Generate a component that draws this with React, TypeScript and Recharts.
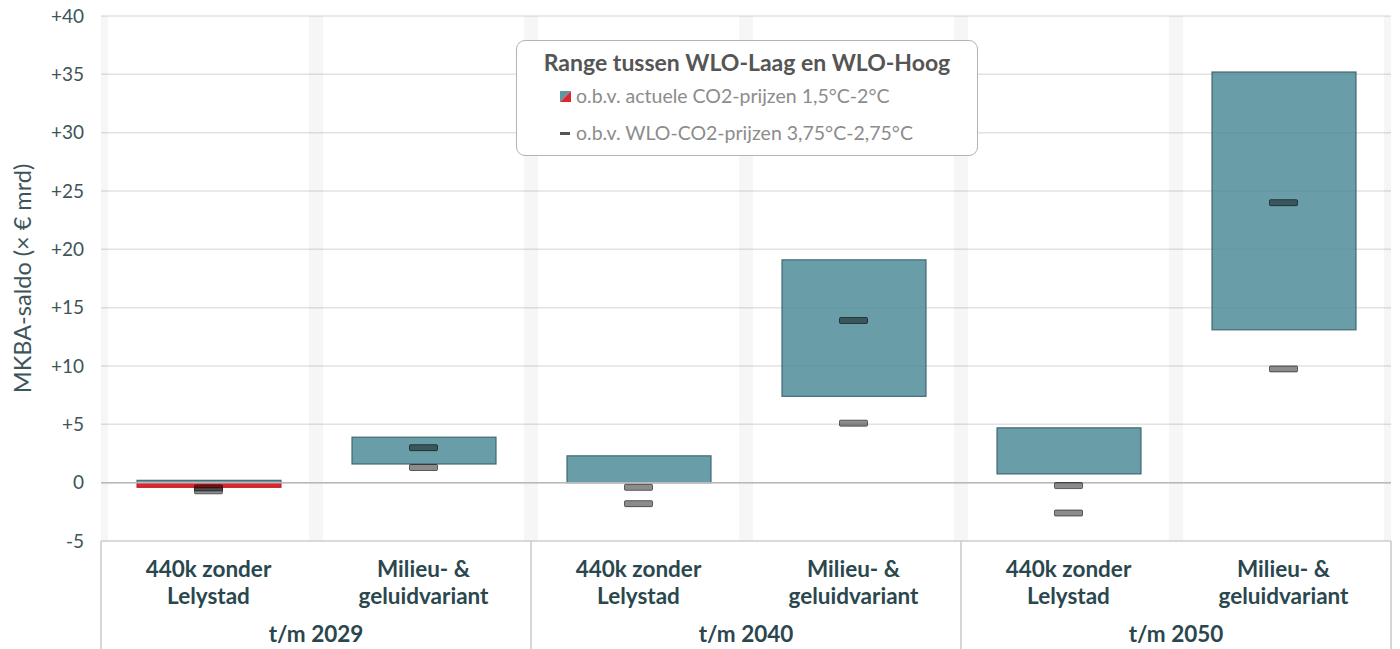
import React from 'react';
import {
  ComposedChart,
  Bar,
  Scatter,
  XAxis,
  YAxis,
  CartesianGrid,
  ReferenceLine,
  ReferenceArea,
  Legend,
  Label,
} from 'recharts';

// categorieën (twee regels per label) en groepen
const categories = [
  '440k zonder\nLelystad',
  'Milieu- &\ngeluidvariant',
  '440k zonder\nLelystad',
  'Milieu- &\ngeluidvariant',
  '440k zonder\nLelystad',
  'Milieu- &\ngeluidvariant',
];
const groups = ['t/m 2029', 't/m 2040', 't/m 2050'];

// range o.b.v. actuele CO2-prijzen (WLO-Laag .. WLO-Hoog)
const actueelLaag = [-0.4, 1.6, 0.0, 7.4, 0.75, 13.1];
const actueelHoog = [0.2, 3.9, 2.3, 19.1, 4.7, 35.2];

// markers o.b.v. WLO-CO2-prijzen
const wloBoven = [-0.45, 3.0, -0.4, 13.9, -0.25, 24.0];
const wloOnder = [-0.7, 1.3, -1.8, 5.1, -2.6, 9.75];

const yTicks = [-5, 0, 5, 10, 15, 20, 25, 30, 35, 40];

const data = categories.map((name, i) => ({
  name,
  slot: i + 0.5,
  range: [actueelLaag[i], actueelHoog[i]],
  laag: actueelLaag[i],
  hoog: actueelHoog[i],
  wloBoven: wloBoven[i],
  wloOnder: wloOnder[i],
}));

const TEAL = 'rgba(72, 137, 150, 0.82)';
const TEAL_STROKE = 'rgba(55, 95, 104, 0.9)';
const RED = '#e0262c';
const TEXT = '#2b474e';
const CAT_H = 70;
const GRP_H = 38;

const boundaries = categories.map((_, i) => i).concat(categories.length);

const RangeShape = (props: any) => {
  const { x, y, width, height, payload } = props;
  const top = Math.min(y, y + height);
  const h = Math.abs(height);
  const span = payload.hoog - payload.laag;
  const zeroY = span > 0 ? top + (h * Math.max(payload.hoog, 0)) / span : top + h;
  const parts = [];
  if (payload.hoog > 0) {
    const bottom = Math.min(zeroY, top + h);
    parts.push(
      <rect key="p" x={x} y={top} width={width} height={Math.max(bottom - top, 0)} fill={TEAL} stroke={TEAL_STROKE} strokeWidth={1.2} />
    );
  }
  if (payload.laag < 0) {
    const start = Math.max(zeroY, top);
    parts.push(
      <rect key="n" x={x} y={start} width={width} height={top + h - start} fill={RED} stroke="#b51c22" strokeWidth={1} />
    );
  }
  return <g>{parts}</g>;
};

const MarkerShape = (props: any) => {
  const { cx, cy } = props;
  if (cx == null || cy == null) return null;
  return (
    <rect x={cx - 14} y={cy - 3} width={28} height={6} rx={1} fill="rgba(0,0,0,0.45)" stroke="rgba(0,0,0,0.55)" strokeWidth={1} />
  );
};

const CategoryTick = (props: any) => {
  const { x, y, payload } = props;
  const lines = String(payload.value).split('\n');
  return (
    <g>
      {lines.map((l, i) => (
        <text key={i} x={x} y={y + 36 + i * 27} textAnchor="middle" fill={TEXT} fontSize={22.5} fontWeight={700}>
          {l}
        </text>
      ))}
    </g>
  );
};

const GroupTick = (props: any) => {
  const { x, y, payload } = props;
  const v = payload.value;
  if (v % 2 === 0) {
    return <line x1={x} x2={x} y1={y - CAT_H} y2={y + GRP_H} stroke="#c9c9c9" strokeWidth={1.5} />;
  }
  return (
    <text x={x} y={y + 31} textAnchor="middle" fill={TEXT} fontSize={22.5} fontWeight={700}>
      {groups[(v - 1) / 2]}
    </text>
  );
};

const LegendBox = () => (
  <div
    style={{
      boxSizing: 'border-box',
      width: 462,
      height: 116,
      border: '1.5px solid #b3b3b3',
      borderRadius: 9,
      background: '#fff',
      fontFamily: 'Lato, sans-serif',
    }}
  >
    <div style={{ textAlign: 'center', fontWeight: 700, fontSize: 23, color: '#555', paddingTop: 8, lineHeight: '26px' }}>
      Range tussen WLO-Laag en WLO-Hoog
    </div>
    <div style={{ display: 'flex', alignItems: 'center', marginLeft: 43, marginTop: 9, fontSize: 19.5, color: '#8c8c8c', lineHeight: '24px' }}>
      <svg width={11} height={11} style={{ marginRight: 5 }}>
        <polygon points="0,0 11,0 0,11" fill="#5d97a2" />
        <polygon points="11,0 11,11 0,11" fill={RED} />
      </svg>
      o.b.v. actuele CO2-prijzen 1,5°C-2°C
    </div>
    <div style={{ display: 'flex', alignItems: 'center', marginLeft: 43, marginTop: 13, fontSize: 19.5, color: '#8c8c8c', lineHeight: '24px' }}>
      <svg width={11} height={11} style={{ marginRight: 5 }}>
        <rect x={0} y={4} width={10} height={3} fill="#555" />
      </svg>
      o.b.v. WLO-CO2-prijzen 3,75°C-2,75°C
    </div>
  </div>
);

export default function App() {
  return (
    <div style={{ position: 'absolute', left: 0, top: 0, fontFamily: 'Lato, sans-serif', background: '#fff' }}>
      <ComposedChart width={1400} height={649} data={data} margin={{ top: 16, right: 9, left: 0, bottom: 0 }}>
        {boundaries.map((b) => (
          <ReferenceArea
            key={b}
            xAxisId="grp"
            x1={b - 0.033}
            x2={b + 0.033}
            ifOverflow="hidden"
            fill="#000"
            fillOpacity={0.035}
            stroke="none"
          />
        ))}
        <CartesianGrid vertical={false} stroke="#e2e2e2" strokeWidth={1.5} />
        <XAxis
          dataKey="name"
          height={CAT_H}
          interval={0}
          tickLine={false}
          tickSize={0}
          tickMargin={0}
          axisLine={{ stroke: '#d4d4d4', strokeWidth: 1.5 }}
          tick={<CategoryTick />}
        />
        <XAxis
          xAxisId="grp"
          dataKey="slot"
          type="number"
          domain={[0, categories.length]}
          allowDataOverflow
          ticks={boundaries}
          interval={0}
          height={GRP_H}
          tickLine={false}
          tickSize={0}
          tickMargin={0}
          axisLine={false}
          tick={<GroupTick />}
        />
        <YAxis
          width={101}
          domain={[-5, 40]}
          ticks={yTicks}
          interval={0}
          tickLine={false}
          axisLine={false}
          tickMargin={11}
          tick={{ fill: '#3e5459', fontSize: 19 }}
          tickFormatter={(v: number) => (v > 0 ? `+${v}` : `${v}`)}
        >
          <Label
            content={(p: any) => {
              const vb = p.viewBox || { x: 0, y: 0, width: 0, height: 0 };
              const cx = vb.x + 22;
              const cy = vb.y + vb.height / 2;
              return (
                <text x={cx} y={cy} transform={`rotate(-90 ${cx} ${cy})`} textAnchor="middle" dominantBaseline="central" fill="#3e5459" fontSize={23.5}>
                  MKBA-saldo (× € mrd)
                </text>
              );
            }}
          />
        </YAxis>
        <ReferenceLine y={0} stroke="#b9b9b9" strokeWidth={1.5} />
        <Bar dataKey="range" barSize={144} shape={<RangeShape />} isAnimationActive={false} />
        <Scatter dataKey="wloOnder" shape={<MarkerShape />} isAnimationActive={false} />
        <Scatter dataKey="wloBoven" shape={<MarkerShape />} isAnimationActive={false} />
        <Legend
          layout="vertical"
          align="center"
          verticalAlign="middle"
          wrapperStyle={{ left: 516, top: 40, width: 462, height: 116 }}
          content={() => <LegendBox />}
        />
      </ComposedChart>
    </div>
  );
}
